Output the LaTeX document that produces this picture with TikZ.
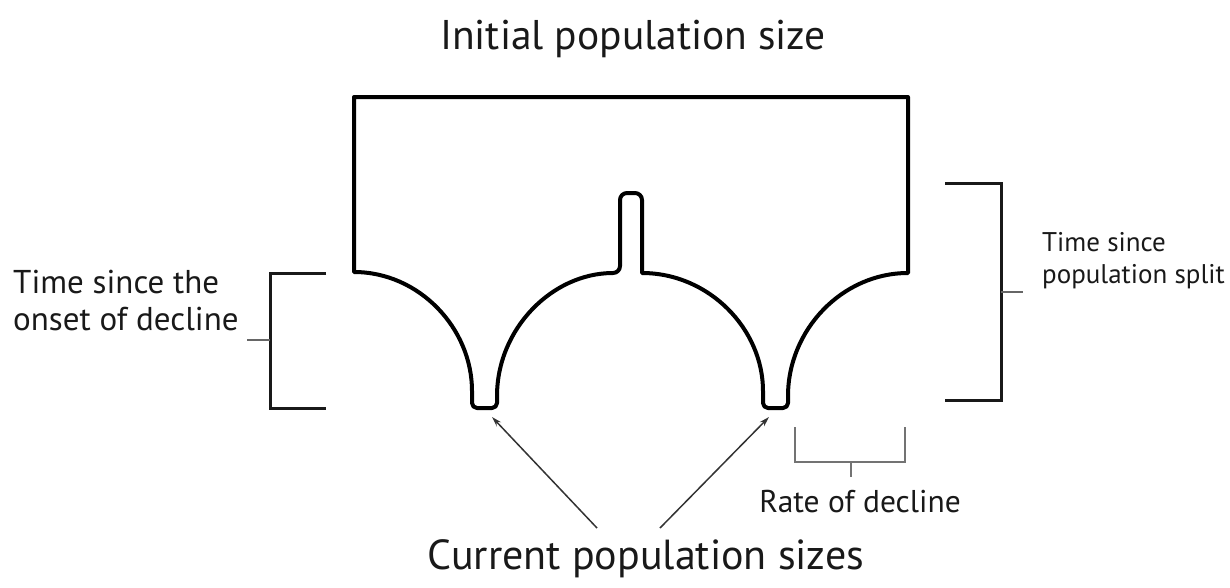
\documentclass[tikz,border=0pt]{standalone}
\usepackage{fontspec}
\setmainfont{PT Sans}
\usetikzlibrary{arrows.meta}
\begin{document}
\begin{tikzpicture}[x=1pt,y=-1pt,
  outline/.style={line width=4pt, line join=round, black},
  bracketline/.style={line width=3pt, black!90},
  ticks/.style={line width=2.4pt, black!60},
  thinbracket/.style={line width=2.4pt, black!55},
  pointer/.style={line width=1.5pt, draw=black!80, -{Stealth[length=10pt,width=6pt]}},
  lbl/.style={text=black!90, inner sep=0pt}]
\useasboundingbox (0,0) rectangle (1230,587);

% main outline
\draw[outline] (354,272) -- (354,97) -- (908,97) -- (908,273)
  .. controls (842,273) and (788,330) .. (788,396)
  [rounded corners=5pt] -- (788,408) -- (763,408) -- (763,396) [sharp corners]
  .. controls (763,329) and (709,273) .. (642,273)
  [rounded corners=7pt] -- (642,193) -- (620,193) -- (620,273) [sharp corners]
  .. controls (552,273) and (497,329) .. (497,396)
  [rounded corners=5pt] -- (497,408) -- (472,408) -- (472,396) [sharp corners]
  .. controls (472,328) and (419,272) .. (354,272) -- cycle;

% texts
\node[lbl, font=\fontsize{41.5}{44}\selectfont, anchor=base] (init) at (633,49) {Initial population size};
\node[lbl, font=\fontsize{42}{44}\selectfont, anchor=base] (cur) at (646,569) {Current population sizes};
\node[lbl, font=\fontsize{33}{37}\selectfont, anchor=base west, align=left] (onset) at (13,330) {Time since the\\onset of decline};
\node[lbl, font=\fontsize{27}{32}\selectfont, anchor=base west, align=left] (split) at (1042,283) {Time since\\population split};
\node[lbl, font=\fontsize{31.5}{34}\selectfont, anchor=base] (rate) at (860,512) {Rate of decline};

% left bracket
\coordinate (lbT) at (326,273);
\coordinate (lbB) at (326,408);
\coordinate (lbTick) at (247,340);
\draw[bracketline] (lbT) -- (270,273) -- (270,408) -- (lbB);
\draw[ticks] (270,340) -- (lbTick);

% right bracket
\coordinate (rbT) at (945,183);
\coordinate (rbB) at (945,400);
\coordinate (rbTick) at (1023,292);
\draw[bracketline] (rbT) -- (1001,183) -- (1001,400) -- (rbB);
\draw[ticks] (1001,292) -- (rbTick);

% rate bracket
\coordinate (rtL) at (795,427);
\coordinate (rtR) at (905,427);
\coordinate (rtTick) at (851,477);
\draw[thinbracket] (rtL) -- (795,462) -- (905,462) -- (rtR);
\draw[thinbracket] (851,462) -- (rtTick);

% pointers
\coordinate (cL) at (597,528);
\coordinate (cR) at (660,528);
\coordinate (nL) at (492,417);
\coordinate (nR) at (769,417);
\draw[pointer] (cL) -- (nL);
\draw[pointer] (cR) -- (nR);
\end{tikzpicture}
\end{document}
